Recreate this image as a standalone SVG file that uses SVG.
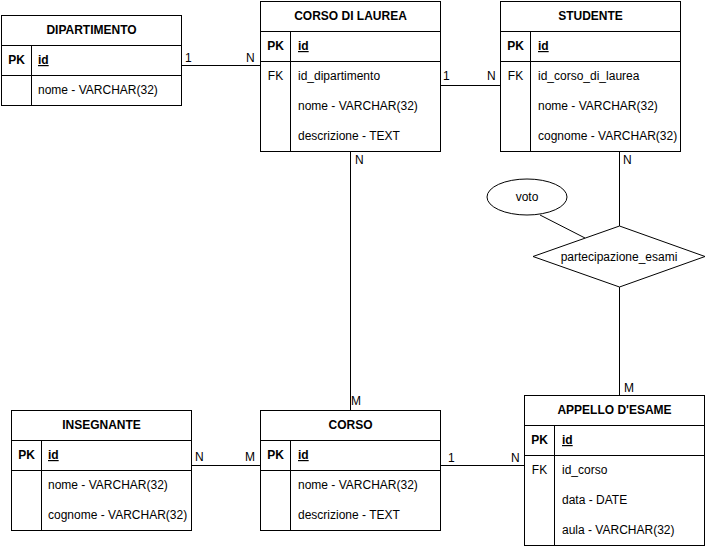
<svg xmlns="http://www.w3.org/2000/svg" width="705" height="546" viewBox="0 0 705 546">
<style>
  text { font-family: "Liberation Sans", Arial, sans-serif; font-size: 12px; fill: #000; }
  .title { font-weight: bold; text-anchor: middle; }
  .key { font-weight: bold; text-anchor: middle; }
  .fk { text-anchor: middle; }
  .pk { font-weight: bold; text-decoration: underline; }
  .box { fill: #fff; stroke: #000; stroke-width: 1; }
  .ln { stroke: #000; stroke-width: 1; fill: none; }
  .mid { text-anchor: middle; }
</style>
<rect width="705" height="546" fill="#fff"/>

<g id="connectors">
  <path class="ln" d="M181 65.5 H260.5"/>
  <path class="ln" d="M440.5 85.5 H500.5"/>
  <path class="ln" d="M350.5 151 V410"/>
  <path class="ln" d="M619.5 151 V226"/>
  <path class="ln" d="M619.5 287 V395"/>
  <path class="ln" d="M540 215 L585 238"/>
  <path class="ln" d="M191 465.5 H260.5"/>
  <path class="ln" d="M440.5 465.5 H524.5"/>
  <text x="185" y="62">1</text>
  <text x="246" y="62">N</text>
  <text x="443" y="80">1</text>
  <text x="487" y="80">N</text>
  <text x="355" y="164">N</text>
  <text x="351" y="405">M</text>
  <text x="623" y="164">N</text>
  <text x="624" y="392">M</text>
  <text x="195" y="461">N</text>
  <text x="245" y="461">M</text>
  <text x="448" y="462">1</text>
  <text x="511" y="462">N</text>
</g>

<g id="dipartimento">
  <rect class="box" x="1.5" y="15.5" width="180" height="90"/>
  <path class="ln" d="M1.5 45.5 H181.5 M1.5 75.5 H181.5 M31.5 45.5 V105.5"/>
  <text class="title" x="91.5" y="34">DIPARTIMENTO</text>
  <text class="key" x="16.5" y="64">PK</text>
  <text class="pk" x="38" y="64">id</text>
  <text x="38" y="94">nome - VARCHAR(32)</text>
</g>

<g id="corso-di-laurea">
  <rect class="box" x="260.5" y="1.5" width="180" height="150"/>
  <path class="ln" d="M260.5 31.5 H440.5 M260.5 61.5 H440.5 M290.5 31.5 V151.5"/>
  <text class="title" x="350.5" y="20">CORSO DI LAUREA</text>
  <text class="key" x="275.5" y="50">PK</text>
  <text class="pk" x="298" y="50">id</text>
  <text class="fk" x="275.5" y="80">FK</text>
  <text x="298" y="80">id_dipartimento</text>
  <text x="298" y="110">nome - VARCHAR(32)</text>
  <text x="298" y="140">descrizione - TEXT</text>
</g>

<g id="studente">
  <rect class="box" x="500.5" y="1.5" width="180" height="150"/>
  <path class="ln" d="M500.5 31.5 H680.5 M500.5 61.5 H680.5 M530.5 31.5 V151.5"/>
  <text class="title" x="590.5" y="20">STUDENTE</text>
  <text class="key" x="515.5" y="50">PK</text>
  <text class="pk" x="538" y="50">id</text>
  <text class="fk" x="515.5" y="80">FK</text>
  <text x="538" y="80">id_corso_di_laurea</text>
  <text x="538" y="110">nome - VARCHAR(32)</text>
  <text x="538" y="140">cognome - VARCHAR(32)</text>
</g>

<g id="voto">
  <ellipse class="box" cx="527" cy="197" rx="40" ry="18"/>
  <text class="mid" x="527" y="201">voto</text>
</g>

<g id="partecipazione-esami">
  <polygon class="box" points="619.5,226 705,256.5 619.5,287 533,256.5"/>
  <text class="mid" x="619" y="261">partecipazione_esami</text>
</g>

<g id="insegnante">
  <rect class="box" x="11.5" y="410.5" width="180" height="120"/>
  <path class="ln" d="M11.5 440.5 H191.5 M11.5 470.5 H191.5 M41.5 440.5 V530.5"/>
  <text class="title" x="101.5" y="429">INSEGNANTE</text>
  <text class="key" x="26.5" y="459">PK</text>
  <text class="pk" x="48" y="459">id</text>
  <text x="48" y="489">nome - VARCHAR(32)</text>
  <text x="48" y="519">cognome - VARCHAR(32)</text>
</g>

<g id="corso">
  <rect class="box" x="260.5" y="410.5" width="180" height="120"/>
  <path class="ln" d="M260.5 440.5 H440.5 M260.5 470.5 H440.5 M290.5 440.5 V530.5"/>
  <text class="title" x="350.5" y="429">CORSO</text>
  <text class="key" x="275.5" y="459">PK</text>
  <text class="pk" x="298" y="459">id</text>
  <text x="298" y="489">nome - VARCHAR(32)</text>
  <text x="298" y="519">descrizione - TEXT</text>
</g>

<g id="appello-d-esame">
  <rect class="box" x="524.5" y="395.5" width="180" height="150"/>
  <path class="ln" d="M524.5 425.5 H704.5 M524.5 455.5 H704.5 M554.5 425.5 V545.5"/>
  <text class="title" x="614.5" y="414">APPELLO D'ESAME</text>
  <text class="key" x="539.5" y="444">PK</text>
  <text class="pk" x="562" y="444">id</text>
  <text class="fk" x="539.5" y="474">FK</text>
  <text x="562" y="474">id_corso</text>
  <text x="562" y="504">data - DATE</text>
  <text x="562" y="534">aula - VARCHAR(32)</text>
</g>
</svg>
